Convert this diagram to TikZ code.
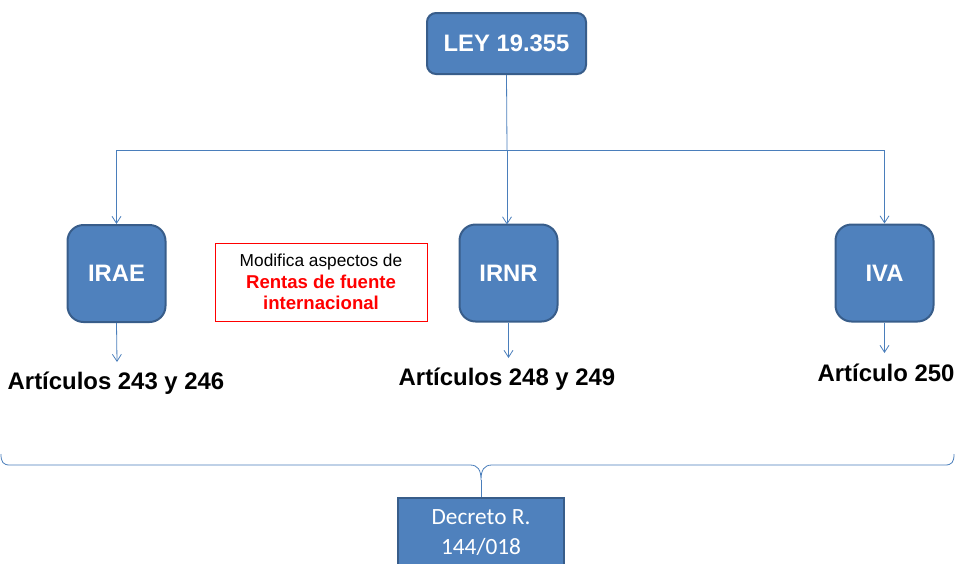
\documentclass[tikz,border=0pt]{standalone}
\usepackage{fontspec}
\setmainfont{Liberation Sans}
\newfontfamily\calib{Carlito}
\usetikzlibrary{arrows.meta}
\definecolor{boxblue}{HTML}{4F81BD}
\definecolor{boxedge}{HTML}{385D8A}
\definecolor{linkblue}{HTML}{4A7EBB}
\begin{document}
\begin{tikzpicture}[x=1pt,y=-1pt,
  bluebox/.style={draw=boxedge,line width=2pt,fill=boxblue,text=white,font=\fontsize{23.8}{26}\selectfont\bfseries,inner sep=0pt},
  link/.style={draw=linkblue,line width=0.8pt},
  arr/.style={link,-{Straight Barb[length=7pt,width=9pt]}},
  artlabel/.style={font=\fontsize{23.9}{26}\selectfont\bfseries,text=black}]
\useasboundingbox (0,0) rectangle (955,563);
\begin{scope}
\clip (0,0) rectangle (955,563);
% top box
\node[bluebox,rounded corners=9pt,minimum width=159pt,minimum height=61pt] (ley) at (506.5,43.5) {LEY 19.355};
% level boxes
\node[bluebox,rounded corners=16pt,minimum width=98pt,minimum height=97pt] (irae) at (116.5,273.5) {IRAE};
\node[bluebox,rounded corners=16pt,minimum width=98pt,minimum height=97pt] (irnr) at (508.5,273) {IRNR};
\node[bluebox,rounded corners=16pt,minimum width=98pt,minimum height=97pt] (iva) at (884.5,273) {IVA};
% tree connectors
\coordinate (j) at (507,150);
\draw[link] (ley.south) -- (j);
\draw[arr] (j) -| (irae.north);
\draw[arr] (j) -| (iva.north);
\draw[arr] (j) -- (507,224.5);
% note box
\node[draw=red,line width=0.8pt,minimum width=212pt,minimum height=78pt,align=center,
  font=\fontsize{17.3}{21.5}\selectfont,inner sep=0pt] (note) at (321,282)
  {Modifica aspectos de\\{\fontsize{18.6}{21.5}\selectfont\bfseries\color{red}Rentas de fuente}\\{\fontsize{18.6}{21.5}\selectfont\bfseries\color{red}internacional}};
% article labels
\coordinate (ae) at (117,362);
\coordinate (ne) at (508.5,358);
\coordinate (ve) at (884.5,353);
\draw[arr] (irae.south) -- (ae);
\draw[arr] (irnr.south) -- (ne);
\draw[arr] (iva.south) -- (ve);
\node[artlabel] (la) at (116,383) {Artículos 243 y 246};
\node[artlabel] (ln) at (507,379) {Artículos 248 y 249};
\node[artlabel] (lv) at (886,373) {Artículo 250};
% decreto box
\node[draw=boxedge,line width=2pt,fill=boxblue,text=white,minimum width=166pt,minimum height=90pt,
  anchor=north,inner sep=0pt] (dec) at (481,497) {};
\node[text=white,font=\calib\fontsize{23.3}{30}\selectfont,align=center] (dect) at (481,533) {Decreto R.\\144/018};
% brace
\coordinate (bt) at (481,480);
\draw[link] (1,454) .. controls (1,462) and (3,465) .. (10,465) -- (470,465)
  .. controls (478,465) and (481,470) .. (bt)
  .. controls (481,470) and (484,465) .. (492,465) -- (945,465)
  .. controls (952,465) and (954,462) .. (954,454);
\draw[link] (bt) -- (dec.north);
\end{scope}
\end{tikzpicture}
\end{document}
